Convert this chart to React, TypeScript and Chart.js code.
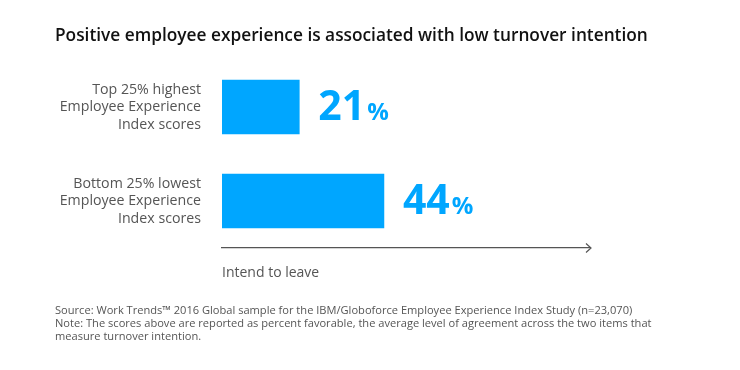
import React, { useEffect, useRef } from "react";
import { Chart, registerables } from "chart.js";

Chart.register(...registerables);

const titleText = "Positive employee experience is associated with low turnover intention";
const categories: string[][] = [
  ["Top 25% highest", "Employee Experience", "Index scores"],
  ["Bottom 25% lowest", "Employee Experience", "Index scores"],
];
const values: number[] = [21, 44];
const axisLabel = "Intend to leave";
const footnotes: string[] = [
  "Source: Work Trends\u2122 2016 Global sample for the IBM/Globoforce Employee Experience Index Study (n=23,070)",
  "Note: The scores above are reported as percent favorable, the average level of agreement across the two items that",
  "measure turnover intention.",
];

const BLUE = "#00a6ff";
const GREY = "#555555";
const FONT = "'Open Sans', 'Noto Sans', sans-serif";

const overlay = {
  id: "overlay",
  afterDraw(chart: any) {
    const ctx = chart.ctx as CanvasRenderingContext2D;
    const area = chart.chartArea;
    ctx.save();
    // title
    ctx.fillStyle = "#111111";
    ctx.font = `600 17.3px ${FONT}`;
    ctx.textAlign = "left";
    ctx.textBaseline = "alphabetic";
    ctx.fillText(titleText, 55, 41);

    // value labels
    const meta = chart.getDatasetMeta(0);
    meta.data.forEach((bar: any, i: number) => {
      const x = bar.x + 19;
      const y = bar.y + 13;
      ctx.fillStyle = BLUE;
      ctx.font = `700 41px ${FONT}`;
      const num = String(values[i]);
      ctx.fillText(num, x, y);
      const w = ctx.measureText(num).width;
      ctx.font = `700 24px ${FONT}`;
      ctx.fillText("%", x + w + 2, y);
    });

    // arrowhead
    const ay = area.bottom;
    const ax = area.right;
    ctx.strokeStyle = GREY;
    ctx.lineWidth = 1.2;
    ctx.beginPath();
    ctx.moveTo(ax - 4, ay - 4.5);
    ctx.lineTo(ax + 1, ay);
    ctx.lineTo(ax - 4, ay + 4.5);
    ctx.stroke();

    // axis label
    ctx.fillStyle = GREY;
    ctx.font = `400 14px ${FONT}`;
    ctx.fillText(axisLabel, area.left, ay + 29);

    // footnotes
    ctx.font = `400 11.1px ${FONT}`;
    footnotes.forEach((t, i) => ctx.fillText(t, 55, 314 + i * 13));
    ctx.restore();
  },
};

export default function App() {
  const ref = useRef<HTMLCanvasElement | null>(null);
  useEffect(() => {
    if (!ref.current) return;
    const chart = new Chart(ref.current, {
      type: "bar",
      data: {
        labels: categories,
        datasets: [
          {
            data: values,
            backgroundColor: BLUE,
            borderWidth: 0,
            barThickness: 54,
          },
        ],
      },
      options: {
        indexAxis: "y",
        responsive: false,
        animation: false,
        layout: { padding: { top: 60, left: 30, right: 150, bottom: 0 } },
        plugins: { legend: { display: false }, tooltip: { enabled: false }, title: { display: false } },
        scales: {
          x: {
            min: 0,
            max: 100,
            grid: { display: false, drawTicks: false },
            ticks: { display: false },
            border: { display: true, color: GREY, width: 1.2 },
            afterFit: (s: any) => {
              s.height = 122;
            },
          },
          y: {
            grid: { display: false, drawTicks: false },
            border: { display: false },
            ticks: {
              color: GREY,
              padding: 21,
              font: { family: FONT, size: 14.2, lineHeight: 1.23 },
            },
            afterFit: (s: any) => {
              s.width = 192;
            },
          },
        },
      },
      plugins: [overlay],
    });
    return () => chart.destroy();
  }, []);
  return (
    <div style={{ position: "fixed", left: 0, top: 0, width: 740, height: 370, background: "#fff" }}>
      <canvas ref={ref} width={740} height={370} />
    </div>
  );
}
